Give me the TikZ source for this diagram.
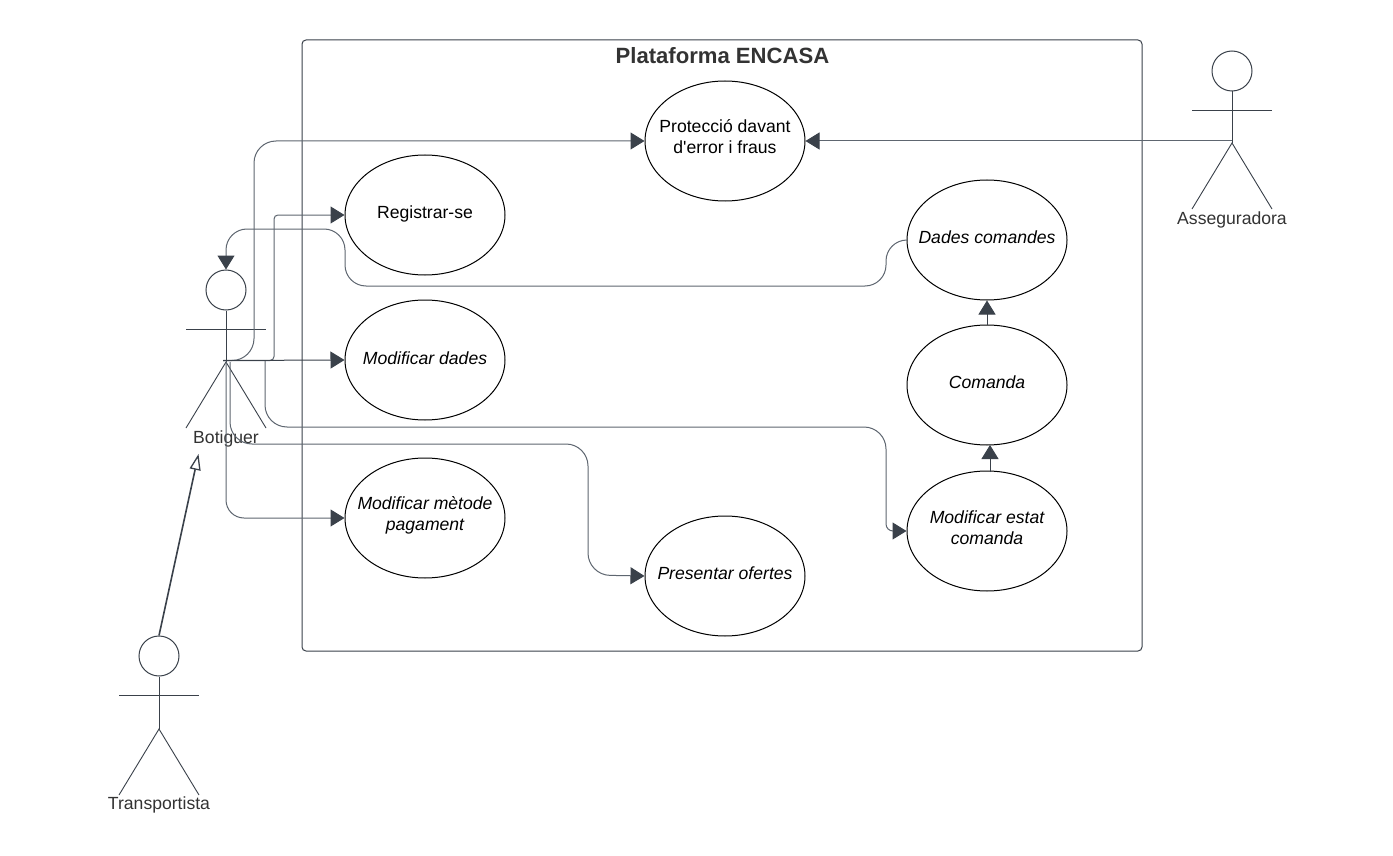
\documentclass[tikz,border=0pt]{standalone}
\usepackage{fontspec}
\setmainfont{Liberation Sans}[Ligatures=TeXOff]
\usetikzlibrary{shapes.geometric,arrows.meta}
\definecolor{ink}{HTML}{3A414A}
\definecolor{wire}{HTML}{5E6670}
\definecolor{txt}{HTML}{333333}
\tikzset{
  usecase/.style={ellipse,draw=black,line width=1pt,minimum width=160pt,minimum height=120pt,inner sep=0pt},
  uctext/.style={inner sep=0pt,align=center,font=\fontsize{17.6}{21}\selectfont,text=black},
  ucit/.style={uctext,font=\fontsize{17.6}{21}\selectfont\itshape},
  head/.style={circle,draw=ink,line width=1pt,minimum size=40pt,inner sep=0pt},
  limb/.style={draw=ink,line width=0.9pt},
  actorname/.style={font=\fontsize{17.6}{20}\selectfont,text=txt,inner sep=0pt},
  conn/.style={draw=wire,line width=1pt,-{Triangle[length=14pt,width=17pt,fill=ink,color=ink]}},
  plain/.style={draw=wire,line width=1pt}
}
\begin{document}
\begin{tikzpicture}[x=1pt,y=-1pt]
\useasboundingbox (0,0) rectangle (1393,856);
\fill[white] (0,0) rectangle (1393,856);
\draw[draw=ink,line width=1pt,rounded corners=4pt] (302,40) rectangle (1142,651);
\node[font=\fontsize{22.1}{26}\selectfont\bfseries,text=txt,inner sep=0pt] (title) at (722.5,56) {Plataforma ENCASA};
% use cases
\node[usecase] (prot) at (725,141) {};
\node[uctext] (protl) at (725,137) {Protecció davant\\d'error i fraus};
\node[usecase] (reg) at (425,215) {};
\node[uctext] (regl) at (425,214) {Registrar-se};
\node[usecase] (mdades) at (425,360) {};
\node[ucit] (mdadesl) at (425,358) {Modificar dades};
\node[usecase] (mpag) at (425,518) {};
\node[ucit] (mpagl) at (425,515.5) {Modificar mètode\\pagament};
\node[usecase] (ofer) at (725,576) {};
\node[ucit] (oferl) at (725,573) {Presentar ofertes};
\node[usecase] (dcom) at (987,240) {};
\node[ucit] (dcoml) at (987,237) {Dades comandes};
\node[usecase] (com) at (987,385) {};
\node[ucit] (coml) at (987,382) {Comanda};
\node[usecase] (mest) at (987,531) {};
\node[ucit] (mestl) at (987,528) {Modificar estat\\comanda};
% Botiguer
\node[head] (bh) at (226,290) {};
\coordinate (bhub) at (226,362);
\coordinate (bstart) at (223,360.5);
\draw[limb] (bh.south) -- (bhub);
\draw[limb] (186,329) -- (266,329);
\draw[limb] (186,428) -- (bhub) -- (266,428);
\node[actorname] (bl) at (226,439) {Botiguer};
\coordinate (btip) at (198.5,454);
% Transportista
\node[head] (th) at (159,656) {};
\coordinate (thub) at (159,729);
\draw[limb] (th.south) -- (thub);
\draw[limb] (119,695) -- (199,695);
\draw[limb] (119,795) -- (thub) -- (199,795);
\node[actorname] (tl) at (159,805) {Transportista};
% Asseguradora
\node[head] (ah) at (1232,71) {};
\coordinate (ahub) at (1232,143);
\draw[limb] (ah.south) -- (ahub);
\draw[limb] (1192,110) -- (1272,110);
\draw[limb] (1192,209) -- (ahub) -- (1272,209);
\node[actorname] (al) at (1232,220) {Asseguradora};
% connectors
\draw[conn,rounded corners=22pt] (bstart) -- (254,360.5) -- (254,141) -- (prot.west);
\draw[conn,rounded corners=4pt] (bstart) -- (274,360.5) -- (274,215) -- (reg.west);
\draw[conn,draw=ink] (bstart) -- (mdades.west);
\draw[conn,rounded corners=18pt] (226,362) -- (226,518) -- (mpag.west);
\draw[conn,rounded corners=22pt] (230,362) -- (230,444) -- (588,444) -- (588,575) -- (ofer.west);
\draw[conn,rounded corners=22pt] (265,361) -- (265,427) -- (886,427) [rounded corners=7pt] -- (886,531) -- (mest.west);
\draw[conn,rounded corners=21pt] (dcom.west) -- (886,240) -- (886,286) -- (345,286) -- (345,229) -- (226,229) -- (bh.north);
\draw[conn] (1232,141) -- (prot.east);
\draw[conn,draw=ink] (com.north) -- (dcom.south);
\draw[conn,draw=ink] (990,472) -- (990,445);
\draw[draw=ink,line width=1.6pt,-{Triangle[open,length=16pt,width=11pt,line width=1.3pt]}] (th.north) -- (btip);
\end{tikzpicture}
\end{document}
